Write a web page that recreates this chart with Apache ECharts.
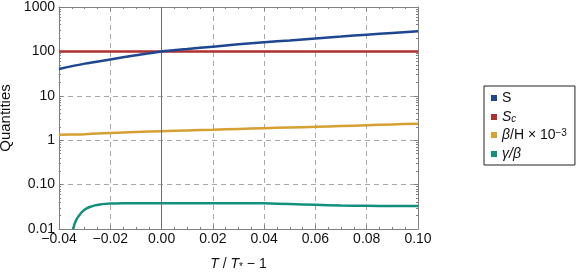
<!DOCTYPE html>
<html><head><meta charset="utf-8">
<script src="https://cdn.jsdelivr.net/npm/echarts@6/dist/echarts.min.js"></script>
<style>html,body{margin:0;padding:0;background:#fff}#c{width:581px;height:274px}</style>
</head><body><div id="c"></div>
<script>
// Data
const sX = [-0.04, -0.03, -0.02, -0.01, 0.0, 0.01, 0.02, 0.03, 0.04, 0.05, 0.06, 0.07, 0.08, 0.09, 0.10];
const sY = [40, 53, 66, 82, 100, 113, 128, 144, 160, 177, 196, 216, 238, 261, 285];
const scX = [-0.04, 0.0, 0.10];
const scY = [100, 100, 100];
const bX = [-0.04, -0.035, -0.03, -0.025, -0.02, -0.01, 0.0, 0.01, 0.02, 0.03, 0.04, 0.05, 0.06, 0.07, 0.08, 0.09, 0.10];
const bY = [1.33, 1.34, 1.37, 1.41, 1.45, 1.53, 1.6, 1.66, 1.72, 1.79, 1.86, 1.93, 2.0, 2.08, 2.17, 2.26, 2.36];
const gX = [-0.0345, -0.034, -0.0335, -0.033, -0.0325, -0.032, -0.031, -0.030, -0.029, -0.028, -0.026, -0.024, -0.022, -0.020, -0.015, -0.01, 0.0, 0.01, 0.02, 0.03, 0.04, 0.05, 0.06, 0.07, 0.08, 0.09, 0.10];
const gY = [0.0098, 0.0125, 0.015, 0.0172, 0.019, 0.0207, 0.0243, 0.0272, 0.0295, 0.0313, 0.0340, 0.0357, 0.0368, 0.0375, 0.0380, 0.0382, 0.0382, 0.0382, 0.0382, 0.0381, 0.0378, 0.0365, 0.0350, 0.0337, 0.0333, 0.0330, 0.0328];
const xTicks = [-0.04, -0.02, 0.0, 0.02, 0.04, 0.06, 0.08, 0.10];
const yTickLabels = {"0.01": "0.01", "0.1": "0.10", "1": "1", "10": "10", "100": "100", "1000": "1000"};
const vLineX = 0;

const colors = ['#1f4690', '#b0302e', '#d6a032', '#138f7e'];
const zip = (xs, ys) => xs.map((x, i) => [x, ys[i]]);
const minorLog = [];
for (let e = -2; e < 3; e++) for (let k = 2; k <= 9; k++) minorLog.push(+(k * Math.pow(10, e)).toPrecision(3));

const frame = '#808080';
const font = 'Liberation Sans, Arial, sans-serif';
const chart = echarts.init(document.getElementById('c'));
const baseX = {type: 'value', min: -0.04, max: 0.10, interval: 0.02};
const baseY = {type: 'log', logBase: 10, min: 0.01, max: 1000};
chart.setOption({
  animation: false,
  color: colors,
  grid: {left: 59, right: 163, top: 7, bottom: 45, containLabel: false, outerBoundsMode: 'none'},
  legend: {
    orient: 'vertical', left: 484, top: 86, width: 96,
    borderColor: '#222', borderWidth: 1, padding: [5, 8, 4, 7],
    icon: 'rect', itemWidth: 6, itemHeight: 6, itemGap: 4,
    textStyle: {fontFamily: font, fontSize: 14, color: '#111', lineHeight: 14,
      rich: {
        t: {fontFamily: font, fontSize: 14, color: '#111', lineHeight: 14},
        i: {fontFamily: font, fontSize: 14, fontStyle: 'italic', color: '#111', lineHeight: 14},
        sub: {fontFamily: font, fontSize: 10, fontStyle: 'italic', color: '#111', verticalAlign: 'bottom', lineHeight: 14, padding: [5, 0, 0, 0]},
        sup: {fontFamily: font, fontSize: 10, color: '#111', verticalAlign: 'top', lineHeight: 14, padding: [0, 0, 5, 0]}
      }},
    formatter: function (n) {
      if (n === 'S') return '{t|S}';
      if (n === 'Sc') return '{i|S}{sub|c}';
      if (n === 'bH') return '{i|β}{t|/H × 10}{sup|−3}';
      return '{i|γ/β}';
    },
    data: ['S', 'Sc', 'bH', 'gb']
  },
  xAxis: [
    Object.assign({}, baseX, {
      position: 'bottom',
      name: '{i|T} {t|/} {i|T}{sub|*} {t|− 1}', nameLocation: 'middle', nameGap: 27,
      nameTextStyle: {fontFamily: font, fontSize: 14, color: '#111',
        rich: {
          t: {fontFamily: font, fontSize: 14, color: '#111'},
          i: {fontFamily: font, fontSize: 14, fontStyle: 'italic', color: '#111'},
          sub: {fontFamily: font, fontSize: 10, color: '#111', verticalAlign: 'bottom', padding: [6, 0, 0, 0]}
        }},
      axisLine: {show: true, onZero: false, lineStyle: {color: frame}},
      axisTick: {show: true, inside: true, length: 4, lineStyle: {color: frame}},
      minorTick: {show: true, splitNumber: 4, length: 2, lineStyle: {color: frame}},
      axisLabel: {fontFamily: font, fontSize: 14, color: '#111', margin: 3,
        formatter: v => (v < 0 ? '−' : '') + Math.abs(v).toFixed(2)},
      splitLine: {show: true, lineStyle: {color: '#a8a8a8', type: [5, 4], width: 1}},
      minorSplitLine: {show: false}
    }),
    Object.assign({}, baseX, {
      position: 'top',
      axisLine: {show: true, onZero: false, lineStyle: {color: frame}},
      axisTick: {show: true, inside: true, length: 4, lineStyle: {color: frame}},
      minorTick: {show: true, splitNumber: 4, length: 2, lineStyle: {color: frame}},
      axisLabel: {show: false}, splitLine: {show: false}
    })
  ],
  yAxis: [
    Object.assign({}, baseY, {
      position: 'left',
      name: 'Quantities', nameLocation: 'middle', nameGap: 43, nameRotate: 90,
      nameTextStyle: {fontFamily: font, fontSize: 15, color: '#111'},
      axisLine: {show: true, onZero: false, lineStyle: {color: frame}},
      axisTick: {show: true, inside: true, length: 4, lineStyle: {color: frame}},
      axisLabel: {fontFamily: font, fontSize: 14, color: '#111', margin: 4,
        formatter: v => yTickLabels[String(+v.toPrecision(3))] || ''},
      splitLine: {show: true, lineStyle: {color: '#a8a8a8', type: [5, 4], width: 1}}
    }),
    Object.assign({}, baseY, {
      position: 'right',
      axisLine: {show: true, onZero: false, lineStyle: {color: frame}},
      axisTick: {show: true, inside: true, length: 4, lineStyle: {color: frame}},
      axisLabel: {show: false}, splitLine: {show: false}
    }),
    Object.assign({}, baseY, {
      position: 'left',
      axisLine: {show: false, onZero: false},
      axisTick: {show: true, inside: true, length: 2, customValues: minorLog, lineStyle: {color: frame}},
      axisLabel: {show: false}, splitLine: {show: false}
    }),
    Object.assign({}, baseY, {
      position: 'right',
      axisLine: {show: false, onZero: false},
      axisTick: {show: true, inside: true, length: 2, customValues: minorLog, lineStyle: {color: frame}},
      axisLabel: {show: false}, splitLine: {show: false}
    })
  ],
  series: [
    {name: 'S', type: 'line', data: zip(sX, sY), smooth: 0.3, showSymbol: false, lineStyle: {width: 2.5, color: colors[0]}, z: 5,
      markLine: {silent: true, symbol: 'none', label: {show: false}, lineStyle: {color: '#6e6e6e', type: 'solid', width: 1}, data: [{xAxis: vLineX}]}},
    {name: 'Sc', type: 'line', data: zip(scX, scY), showSymbol: false, lineStyle: {width: 2.5, color: colors[1]}, z: 4},
    {name: 'bH', type: 'line', data: zip(bX, bY), smooth: 0.3, showSymbol: false, lineStyle: {width: 2.5, color: colors[2]}},
    {name: 'gb', type: 'line', data: zip(gX, gY), smooth: 0.3, showSymbol: false, lineStyle: {width: 2.5, color: colors[3]}}
  ]
});
</script></body></html>
